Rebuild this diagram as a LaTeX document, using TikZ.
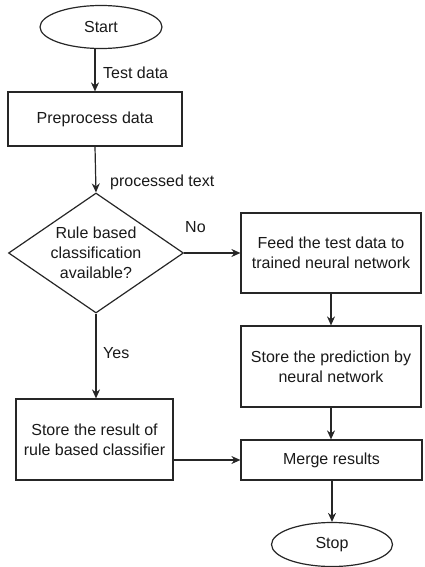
\documentclass[tikz,border=0pt]{standalone}
\usepackage{fontspec}
\setmainfont{Liberation Sans}
\usetikzlibrary{shapes.geometric,arrows.meta}
\begin{document}
\begin{tikzpicture}[x=1pt,y=-1pt,
  every node/.style={font=\fontsize{16}{20}\selectfont, text=black!90},
  base/.style={draw=black!85, line width=1.2pt, inner sep=0pt, align=center},
  oval/.style={base, ellipse},
  box/.style={base, rectangle},
  decision/.style={base, diamond},
  lbl/.style={anchor=west, inner sep=0pt},
  arr/.style={draw=black!85, line width=1.2pt, -{Stealth[length=9pt,width=8pt]}}]
\useasboundingbox (0,0) rectangle (424,567);
\node[oval, minimum width=122pt, minimum height=43pt] (start) at (101,27) {Start};
\node[box, minimum width=174pt, minimum height=54pt] (pre) at (95,119) {Preprocess data};
\node[decision, minimum width=175pt, minimum height=120pt] (dec) at (96,253) {};
\node[align=center, inner sep=0pt] (dectext) at (96,253) {Rule based\\classification\\available?};
\node[box, minimum width=180pt, minimum height=80pt] (feed) at (331,253) {Feed the test data to\\trained neural network};
\node[box, minimum width=180pt, minimum height=81pt] (pred) at (331,366.5) {Store the prediction by\\neural network};
\node[box, minimum width=181pt, minimum height=40pt] (merge) at (331.5,460) {Merge results};
\node[oval, minimum width=121pt, minimum height=44pt] (stop) at (332,544.5) {Stop};
\node[box, minimum width=157pt, minimum height=81pt] (store) at (94.5,439.5) {Store the result of\\rule based classifier};

\node[lbl] (l1) at (103,73) {Test data};
\node[lbl] (l2) at (110,182) {processed text};
\node[lbl] (l3) at (185,227) {No};
\node[lbl] (l4) at (103,353) {Yes};

\draw[arr] (start.south -| pre.north) -- (pre.north);
\draw[arr] (pre.south) -- (dec.north);
\draw[arr] (dec.east) -- (feed.west);
\draw[arr] (feed.south) -- (pred.north);
\draw[arr] (pred.south) -- (pred.south |- merge.north);
\draw[arr] (merge.south -| stop.north) -- (stop.north);
\draw[arr] (dec.south) -- (dec.south |- store.north);
\draw[arr] (store.east |- merge.west) -- (merge.west);
\end{tikzpicture}
\end{document}
